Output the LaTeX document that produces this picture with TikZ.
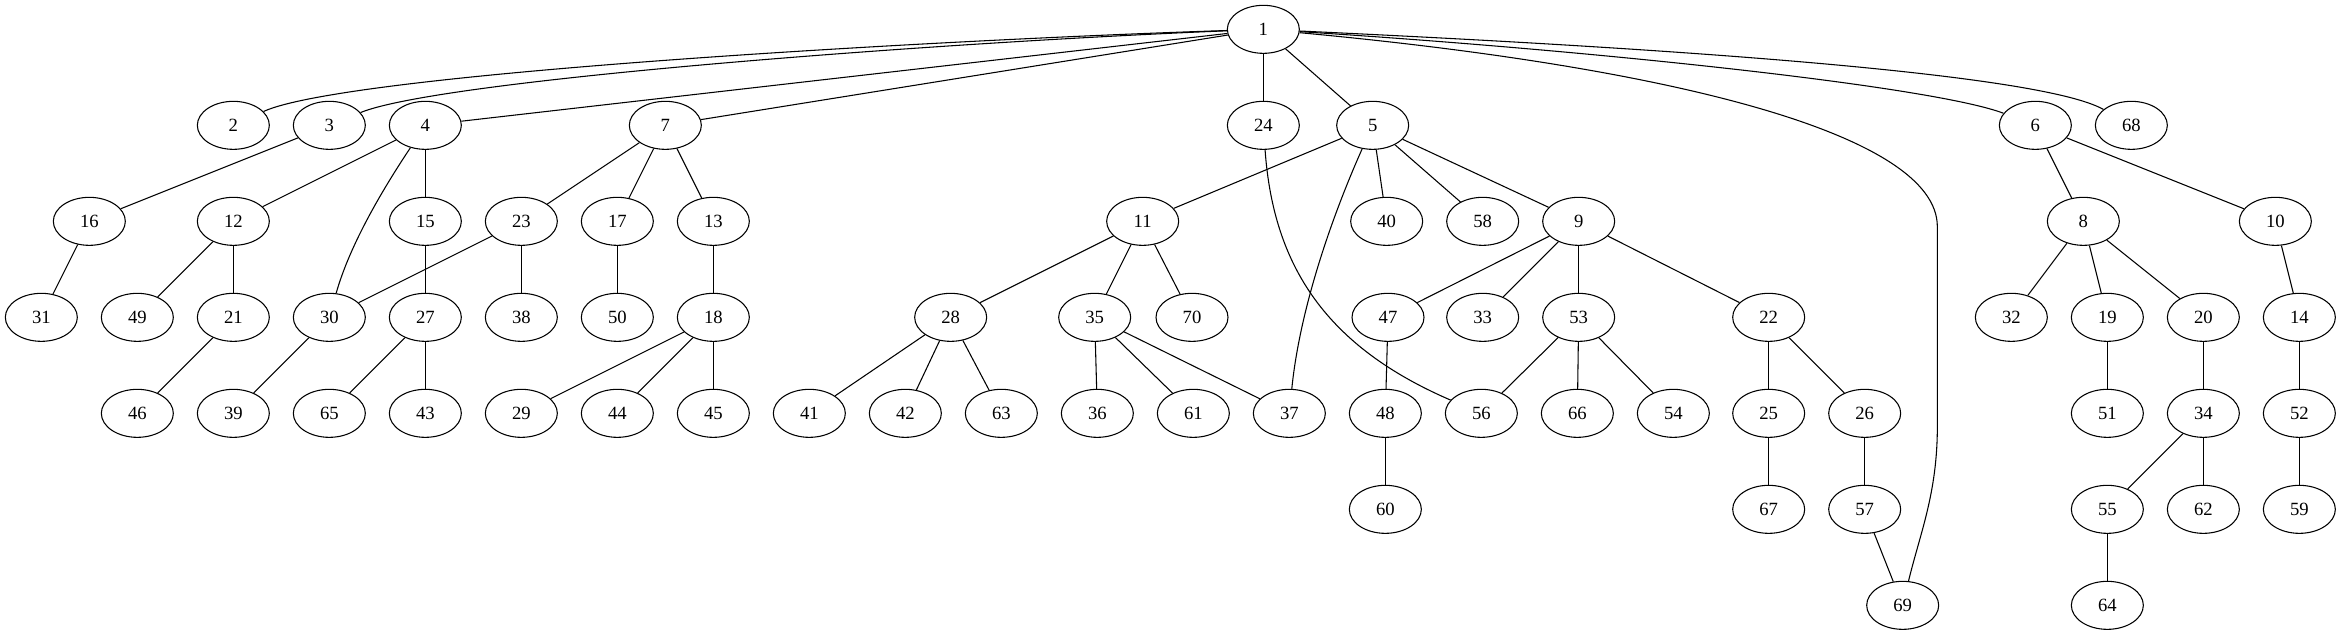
\documentclass[tikz,border=0pt]{standalone}
\usepackage{fontspec}
\setmainfont{Liberation Serif}
\usetikzlibrary{shapes.geometric}
\begin{document}
\begin{tikzpicture}[x=1pt,y=1pt,line width=0.8pt,
    every node/.style={draw,ellipse,minimum width=54pt,minimum height=36pt,inner sep=0pt,font=\fontsize{14}{16}\selectfont}]
      \useasboundingbox (0,0) rectangle (1755.75,-476.25);
      \draw
        (947.5,-22) node (1){1}
        (175,-94) node (2){2}
        (247,-94) node (3){3}
        (319,-94) node (4){4}
        (499,-94) node (7){7}
        (947.5,-94) node (24){24}
        (1029.5,-94) node (5){5}
        (1526.5,-94) node (6){6}
        (1598.5,-94) node (68){68}
        (67,-166) node (16){16}
        (175,-166) node (12){12}
        (319,-166) node (15){15}
        (391,-166) node (23){23}
        (463,-166) node (17){17}
        (535,-166) node (13){13}
        (857,-166) node (11){11}
        (1040,-166) node (40){40}
        (1112,-166) node (58){58}
        (1184,-166) node (9){9}
        (1562.5,-166) node (8){8}
        (1706.5,-166) node (10){10}
        (31,-238) node (31){31}
        (103,-238) node (49){49}
        (175,-238) node (21){21}
        (247,-238) node (30){30}
        (319,-238) node (27){27}
        (391,-238) node (38){38}
        (463,-238) node (50){50}
        (535,-238) node (18){18}
        (713,-238) node (28){28}
        (821,-238) node (35){35}
        (894,-238) node (70){70}
        (1041,-238) node (47){47}
        (1112,-238) node (33){33}
        (1184,-238) node (53){53}
        (1326.5,-238) node (22){22}
        (1508.5,-238) node (32){32}
        (1580.5,-238) node (19){19}
        (1652.5,-238) node (20){20}
        (1724.5,-238) node (14){14}
        (103,-310) node (46){46}
        (175,-310) node (39){39}
        (247,-310) node (65){65}
        (319,-310) node (43){43}
        (391,-310) node (29){29}
        (463,-310) node (44){44}
        (535,-310) node (45){45}
        (607,-310) node (41){41}
        (679,-310) node (42){42}
        (751,-310) node (63){63}
        (823,-310) node (36){36}
        (895,-310) node (61){61}
        (967,-310) node (37){37}
        (1039,-310) node (48){48}
        (1111,-310) node (56){56}
        (1183,-310) node (66){66}
        (1255,-310) node (54){54}
        (1326.5,-310) node (25){25}
        (1398.5,-310) node (26){26}
        (1580.5,-310) node (51){51}
        (1652.5,-310) node (34){34}
        (1724.5,-310) node (52){52}
        (1039,-382) node (60){60}
        (1326.5,-382) node (67){67}
        (1398.5,-382) node (57){57}
        (1580.5,-382) node (55){55}
        (1652.5,-382) node (62){62}
        (1724.5,-382) node (59){59}
        (1427,-454) node (69){69}
        (1580.5,-454) node (64){64};
      \begin{scope}[-]
        \draw (1) .. controls (700,-30) and (260,-55) .. (2);
        \draw (1) .. controls (700,-32) and (330,-60) .. (3);
        \draw (1) to (4);
        \draw (1) to (7);
        \draw (1) to (24);
        \draw (1) to (5);
        \draw (1) .. controls (1200,-38) and (1450,-65) .. (6);
        \draw (1) .. controls (1250,-36) and (1530,-55) .. (68);
        \draw (1) .. controls (1250,-50) and (1453,-100) .. (1453,-170)
          -- (1453,-320) .. controls (1453,-370) and (1440,-400) .. (69);
        \draw (3) to (16);
        \draw (4) to (12);
        \draw (4) .. controls (285,-145) and (262,-185) .. (30);
        \draw (4) to (15);
        \draw (7) to (23);
        \draw (7) to (17);
        \draw (7) to (13);
        \draw (24) .. controls (955,-200) and (995,-260) .. (56);
        \draw (5) to (11);
        \draw (5) .. controls (1000,-160) and (975,-230) .. (37);
        \draw (5) to (40);
        \draw (5) to (58);
        \draw (5) to (9);
        \draw (6) to (8);
        \draw (6) to (10);
        \draw (16) to (31);
        \draw (12) to (49);
        \draw (12) to (21);
        \draw (15) to (27);
        \draw (23) to (30);
        \draw (23) to (38);
        \draw (17) to (50);
        \draw (13) to (18);
        \draw (11) to (28);
        \draw (11) to (35);
        \draw (11) to (70);
        \draw (9) to (47);
        \draw (9) to (33);
        \draw (9) to (53);
        \draw (9) to (22);
        \draw (8) to (32);
        \draw (8) to (19);
        \draw (8) to (20);
        \draw (10) to (14);
        \draw (21) to (46);
        \draw (30) to (39);
        \draw (27) to (65);
        \draw (27) to (43);
        \draw (18) to (29);
        \draw (18) to (44);
        \draw (18) to (45);
        \draw (28) to (41);
        \draw (28) to (42);
        \draw (28) to (63);
        \draw (35) to (36);
        \draw (35) to (61);
        \draw (35) to (37);
        \draw (47) to (48);
        \draw (53) to (56);
        \draw (53) to (66);
        \draw (53) to (54);
        \draw (22) to (25);
        \draw (22) to (26);
        \draw (19) to (51);
        \draw (20) to (34);
        \draw (14) to (52);
        \draw (48) to (60);
        \draw (25) to (67);
        \draw (26) to (57);
        \draw (57) to (69);
        \draw (34) to (55);
        \draw (34) to (62);
        \draw (52) to (59);
        \draw (55) to (64);
      \end{scope}
    \end{tikzpicture}
\end{document}
